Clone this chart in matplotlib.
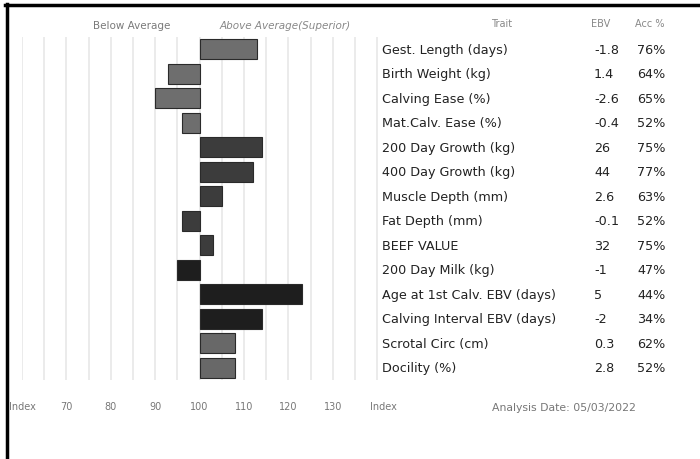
import matplotlib
matplotlib.use("Agg")
import matplotlib.pyplot as plt
import matplotlib.transforms as mtransforms
from matplotlib.lines import Line2D

traits = ["Gest. Length (days)", "Birth Weight (kg)", "Calving Ease (%)", "Mat.Calv. Ease (%)",
          "200 Day Growth (kg)", "400 Day Growth (kg)", "Muscle Depth (mm)", "Fat Depth (mm)",
          "BEEF VALUE", "200 Day Milk (kg)", "Age at 1st Calv. EBV (days)",
          "Calving Interval EBV (days)", "Scrotal Circ (cm)", "Docility (%)"]
ebv = ["-1.8", "1.4", "-2.6", "-0.4", "26", "44", "2.6", "-0.1", "32", "-1", "5", "-2", "0.3", "2.8"]
acc = ["76%", "64%", "65%", "52%", "75%", "77%", "63%", "52%", "75%", "47%", "44%", "34%", "62%", "52%"]
index_vals = [113, 93, 90, 96, 114, 112, 105, 96, 103, 95, 123, 114, 108, 108]
groups = [0, 0, 0, 0, 1, 1, 1, 1, 1, 2, 2, 2, 3, 3]
group_colors = ["#6e6e6e", "#3c3c3c", "#1e1e1e", "#686868"]
tick_vals = [60, 70, 80, 90, 100, 110, 120, 130, 141.5]
tick_labels = ["Index", "70", "80", "90", "100", "110", "120", "130", "Index"]
base = 100

W, H = 700, 460
fig = plt.figure(figsize=(7, 4.6), dpi=100)
fig.patch.set_facecolor("white")

ax = fig.add_axes([22 / W, 1 - 381 / H, (386 - 22) / W, (381 - 38) / H])
ax.set_xlim(60, 142)
ax.set_ylim(len(traits) - 0.5, -0.5)
for s in ax.spines.values():
    s.set_visible(False)

for gx in range(60, 141, 5):
    ax.axvline(gx, color="#e9e9e9", lw=1.3, zorder=0)

y = list(range(len(traits)))
widths = [v - base for v in index_vals]
colors = [group_colors[g] for g in groups]
ax.barh(y, widths, left=base, height=0.82, color=colors, edgecolor="#2a2a2a",
        linewidth=0.8, zorder=2)

ax.set_yticks([])
ax.set_xticks(tick_vals)
ax.set_xticklabels(tick_labels, fontsize=7, color="#777777", family="DejaVu Sans")
ax.tick_params(axis="x", length=0, pad=15)

trans = mtransforms.blended_transform_factory(fig.transFigure, ax.transData)
tfam = "DejaVu Sans"
for i, (t, e, a) in enumerate(zip(traits, ebv, acc)):
    ax.text(382 / W, i, t, transform=trans, ha="left", va="center", fontsize=9.2,
            color="#222222", family=tfam)
    ax.text(594 / W, i, e, transform=trans, ha="left", va="center", fontsize=9.2,
            color="#222222", family=tfam)
    ax.text(637 / W, i, a, transform=trans, ha="left", va="center", fontsize=9.2,
            color="#222222", family=tfam)

hy = 1 - 24 / H
fig.text(502 / W, hy, "Trait", ha="center", va="center", fontsize=7, color="#888888", family=tfam)
fig.text(601 / W, hy, "EBV", ha="center", va="center", fontsize=7, color="#888888", family=tfam)
fig.text(650 / W, hy, "Acc %", ha="center", va="center", fontsize=7, color="#888888", family=tfam)
fig.text(132 / W, 1 - 26 / H, "Below Average", ha="center", va="center", fontsize=7.5,
         color="#7a7a7a", family="DejaVu Sans")
fig.text(285 / W, 1 - 26 / H, "Above Average(Superior)", ha="center", va="center", fontsize=7.5,
         color="#888888", family="DejaVu Sans", style="italic")
fig.text(564 / W, 1 - 408 / H, "Analysis Date: 05/03/2022", ha="center", va="center",
         fontsize=7.8, color="#777777", family="DejaVu Sans")

fig.add_artist(Line2D([6.5 / W, 6.5 / W], [0, 1 - 5 / H], transform=fig.transFigure,
                      color="black", lw=2.5))
fig.add_artist(Line2D([5 / W, 1], [1 - 6 / H, 1 - 6 / H], transform=fig.transFigure,
                      color="black", lw=2.5))

fig.savefig("out.png", dpi=100, facecolor="white")
